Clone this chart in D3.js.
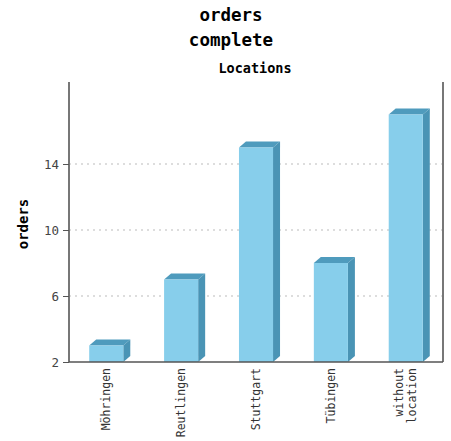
<!DOCTYPE html>
<html>
<head>
<meta charset="utf-8">
<script src="https://cdn.jsdelivr.net/npm/d3@7"></script>
<style>
  body { margin: 0; background: #fff; }
  text { font-family: "DejaVu Sans Mono", monospace; }
</style>
</head>
<body>
<div id="plot"></div>
<script>
const w = 451;
const h = 441;

// data
const locations = ["Möhringen", "Reutlingen", "Stuttgart", "Tübingen", "without location"];
const orders = [3, 7, 15, 8, 17];
const yTicks = [2, 6, 10, 14];

const plotLeft = 69, plotRight = 443, plotTop = 82, plotBottom = 362;
const depth = 7;

const svg = d3.select("#plot").append("svg")
  .attr("width", w)
  .attr("height", h);

const xScale = d3.scaleBand()
  .domain(locations)
  .range([plotLeft, plotRight])
  .paddingInner(0.545)
  .paddingOuter(0.27);

const yScale = d3.scaleLinear()
  .domain([2, 2 + (plotBottom - plotTop) / 16.5])
  .range([plotBottom, plotTop]);

// titles
svg.append("text").attr("x", 231).attr("y", 21)
  .attr("text-anchor", "middle").attr("font-size", 17.5).attr("font-weight", "bold")
  .text("orders");
svg.append("text").attr("x", 231).attr("y", 46)
  .attr("text-anchor", "middle").attr("font-size", 17.5).attr("font-weight", "bold")
  .text("complete");
svg.append("text").attr("x", 255).attr("y", 73)
  .attr("text-anchor", "middle").attr("font-size", 13.5).attr("font-weight", "bold")
  .text("Locations");

// grid
svg.append("g")
  .selectAll("line")
  .data(yTicks.filter(d => d > 2))
  .enter().append("line")
  .attr("x1", plotLeft).attr("x2", plotRight)
  .attr("y1", d => yScale(d)).attr("y2", d => yScale(d))
  .attr("stroke", "#bbb")
  .attr("stroke-dasharray", "2,4");

// bars
const bars = svg.append("g").selectAll("g")
  .data(locations)
  .enter().append("g");

bars.append("path")
  .attr("fill", "#4f9bbd")
  .attr("d", (d, i) => {
    const x0 = xScale(d), x1 = x0 + xScale.bandwidth(), y0 = yScale(orders[i]);
    return "M" + x0 + "," + y0 + "L" + (x0 + depth) + "," + (y0 - depth + 1) +
      "L" + (x1 + depth) + "," + (y0 - depth + 1) + "L" + x1 + "," + y0 + "Z";
  });

bars.append("path")
  .attr("fill", "#4a94b5")
  .attr("d", (d, i) => {
    const x1 = xScale(d) + xScale.bandwidth(), y0 = yScale(orders[i]);
    return "M" + x1 + "," + y0 + "L" + (x1 + depth) + "," + (y0 - depth + 1) +
      "L" + (x1 + depth) + "," + (plotBottom - depth + 1) + "L" + x1 + "," + plotBottom + "Z";
  });

bars.append("rect")
  .attr("x", d => xScale(d))
  .attr("y", (d, i) => yScale(orders[i]))
  .attr("width", xScale.bandwidth())
  .attr("height", (d, i) => plotBottom - yScale(orders[i]))
  .attr("fill", "#87ceeb");

// axes
svg.append("line").attr("x1", plotLeft).attr("x2", plotLeft).attr("y1", plotTop).attr("y2", plotBottom)
  .attr("stroke", "#777").attr("stroke-width", 2);
svg.append("line").attr("x1", plotRight).attr("x2", plotRight).attr("y1", plotTop).attr("y2", plotBottom)
  .attr("stroke", "#777").attr("stroke-width", 2);
svg.append("line").attr("x1", plotLeft).attr("x2", plotRight).attr("y1", plotBottom).attr("y2", plotBottom)
  .attr("stroke", "#555").attr("stroke-width", 1.5);

const yAxis = d3.axisLeft(yScale).tickValues(yTicks).tickSize(6).tickPadding(4);
const ya = svg.append("g").attr("transform", "translate(" + plotLeft + ",0)").call(yAxis);
ya.select(".domain").remove();
ya.selectAll("line").attr("stroke", "#555");
ya.selectAll("text").attr("font-size", 12.5).attr("fill", "#444")
  .attr("font-family", "DejaVu Sans Mono");

svg.append("text")
  .attr("transform", "translate(28,224) rotate(-90)")
  .attr("text-anchor", "middle").attr("font-size", 14).attr("font-weight", "bold")
  .text("orders");

// x labels
const xl = svg.append("g").selectAll("text")
  .data(locations)
  .enter().append("text")
  .attr("transform", d => {
    const lines = d.split(" ").length;
    const cx = xScale(d) + xScale.bandwidth() / 2 + 4 - (lines - 1) * 6.5;
    return "translate(" + cx + ",368) rotate(-90)";
  })
  .attr("text-anchor", "end")
  .attr("font-size", 11.5)
  .attr("fill", "#333");

xl.each(function (d) {
  const parts = d.split(" ");
  parts.forEach((p, j) => {
    d3.select(this).append("tspan")
      .attr("x", 0).attr("dy", j === 0 ? 0 : 13)
      .text(p);
  });
});
</script>
</body>
</html>
